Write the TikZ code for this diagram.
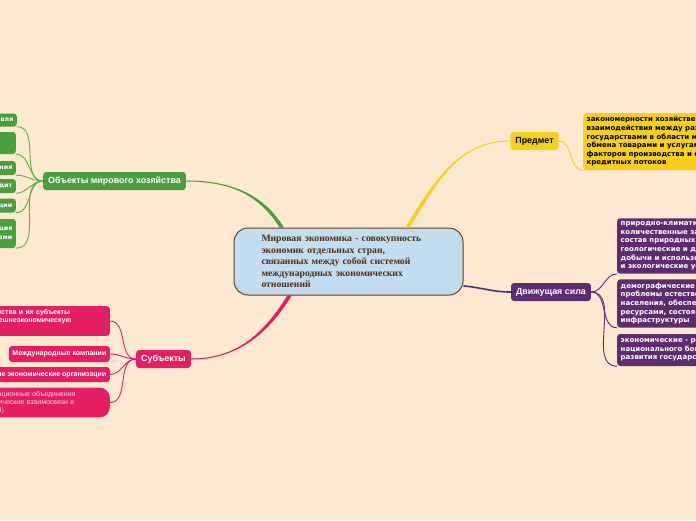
\documentclass[tikz,border=0pt]{standalone}
\usepackage{fontspec}
\setmainfont{Liberation Serif}
\setsansfont{Liberation Sans}
\newfontfamily\leaffont{DejaVu Sans}
\usetikzlibrary{positioning,calc}
\definecolor{bgpeach}{HTML}{FDE8D1}
\definecolor{mgreen}{HTML}{4A9E3F}
\definecolor{lgreen}{HTML}{5FAE4C}
\definecolor{mpink}{HTML}{E41E62}
\definecolor{mpinktxt}{HTML}{F9D3E0}
\definecolor{myellow}{HTML}{F8CF1E}
\definecolor{mpurple}{HTML}{5C2C6E}
\definecolor{cblue}{HTML}{C3DDF0}
\definecolor{cbrown}{HTML}{6E3F1C}
\definecolor{ctext}{HTML}{4A2C16}

\begin{document}
\begin{tikzpicture}[x=1pt,y=-1pt,
  topic/.style={rounded corners=3pt,minimum height=18pt,inner xsep=5pt,
    font=\sffamily\bfseries\fontsize{8.9}{10}\selectfont},
  leaf/.style={rounded corners=3pt,inner sep=3.5pt,align=left,
    font=\leaffont\bfseries\fontsize{6.3}{8.7}\selectfont},
  pinkleaf/.style={leaf,fill=mpink,text=white,anchor=east,
    font=\sffamily\bfseries\fontsize{7}{8}\selectfont},
  wideleaf/.style={leaf,text=white,anchor=west,
    font=\leaffont\bfseries\fontsize{7}{8.6}\selectfont},
  twig/.style={line width=0.9pt}]
\fill[bgpeach] (0,0) rectangle (696,520);
\useasboundingbox (0,0) rectangle (696,520);

% centre
\node[draw=cbrown,fill=cblue,line width=1pt,rounded corners=14pt,
  minimum width=229pt,minimum height=67pt,text width=174pt,align=left,
  text=ctext,font=\rmfamily\bfseries\fontsize{9.7}{11.5}\selectfont]
  (ctr) at (348.5,261.5) {Мировая экономика - совокупность\\экономик отдельных стран,\\связанных между собой системой\\международных экономических\\отношений};

% topics
\node[topic,fill=mgreen,text=white] (obj) at (114.5,181) {Объекты мирового хозяйства};
\node[topic,fill=mpink,text=white] (subj) at (163.5,359) {Субъекты};
\node[topic,fill=myellow,text=black] (pred) at (534.5,141) {Предмет};
\node[topic,fill=mpurple,text=white] (drv) at (551,292) {Движущая сила};

% objects
\node[leaf,fill=mgreen,text=white,anchor=east,minimum height=13pt] (g1) at (17,120) {Международная торговля};
\node[leaf,fill=mgreen,anchor=east,minimum height=22pt,minimum width=60pt] (g2) at (16,143) {};
\node[leaf,fill=mgreen,text=white,anchor=east,minimum height=14pt] (g3) at (16,168) {Международная миграция населения};
\node[leaf,fill=mgreen,text=white,anchor=east,minimum height=14pt] (g4) at (16,186) {Международный кредит};
\node[leaf,fill=mgreen,text=white,anchor=east,minimum height=14pt] (g5) at (16,205.5) {Международные инвестиции};
\node[leaf,fill=mgreen,text=white,anchor=east,align=right,minimum height=29pt] (g6) at (16,233.5) {Международное разделение труда и специализация\\между странами};

% subjects
\node[pinkleaf,text width=180pt] (p1) at (110,321) {Национальные хозяйства и их субъекты\\осуществляющие внешнеэкономическую\\деятельность};
\node[pinkleaf,minimum height=16pt] (p2) at (110,354) {Международные компании};
\node[pinkleaf,minimum height=15pt] (p3) at (110,374.5) {Международные экономические организации};
\node[pinkleaf,text=mpinktxt,text width=131pt,rounded corners=10pt,
  font=\sffamily\fontsize{7}{8}\selectfont] (p4) at (110,402.5) {Интеграционные объединения\\экономические взаимосвязи в\\(АСЕАН)};

% subject matter
\node[wideleaf,fill=myellow,text=black,minimum height=57pt] (y1) at (583,141.5) {закономерности хозяйственного\\взаимодействия между разными\\государствами в области международного\\обмена товарами и услугами, движения\\факторов производства и финансово-\\кредитных потоков};

% driving force
\node[wideleaf,fill=mpurple,minimum height=54pt] (d1) at (617,246) {природно-климатические -\\количественные запасы и\\состав природных ресурсов,\\геологические и другие условия\\добычи и использования,\\и экологические условия};
\node[wideleaf,fill=mpurple,minimum height=47pt] (d2) at (617,303.5) {демографические -\\проблемы естественного прироста\\населения, обеспеченности\\ресурсами, состояния социальной\\инфраструктуры};
\node[wideleaf,fill=mpurple,minimum height=32pt] (d3) at (617,350) {экономические - рост\\национального богатства,\\развития государств};

% branches (tapered towards the topics)
\fill[mgreen] (obj.east) to[out=0,in=122] ($(ctr.153)+(-2.2,0)$) -- ($(ctr.153)+(2.2,0)$) to[out=122,in=0] (obj.east);
\draw[mgreen,line width=1pt] (obj.east) to[out=0,in=122] (ctr.153);
\fill[myellow] ($(ctr.30)+(-2.2,0)$) to[out=58,in=180] (pred.west) to[out=180,in=58] ($(ctr.30)+(2.2,0)$) -- cycle;
\draw[myellow,line width=1pt] (ctr.30) to[out=58,in=180] (pred.west);
\fill[mpink] (subj.east) to[out=0,in=238] ($(ctr.210)+(-2.2,0)$) -- ($(ctr.210)+(2.2,0)$) to[out=238,in=0] (subj.east);
\draw[mpink,line width=1pt] (subj.east) to[out=0,in=238] (ctr.210);
\draw[line width=1.6pt,mpurple] (ctr.-12) to[out=-5,in=180] (drv.west);

\foreach \n in {g1,g2,g3,g4,g5,g6}
  \draw[twig,lgreen] (\n.south east) to[out=0,in=180] (obj.west);
\foreach \n in {p1,p2,p3,p4}
  \draw[twig,mpink] (\n.east) to[out=0,in=180] (subj.west);
\draw[twig,myellow] (pred.east) to[out=0,in=180] (y1.south west);
\foreach \n in {d1,d2,d3}
  \draw[twig,mpurple] (drv.east) to[out=0,in=180] (\n.south west);
\end{tikzpicture}
\end{document}
